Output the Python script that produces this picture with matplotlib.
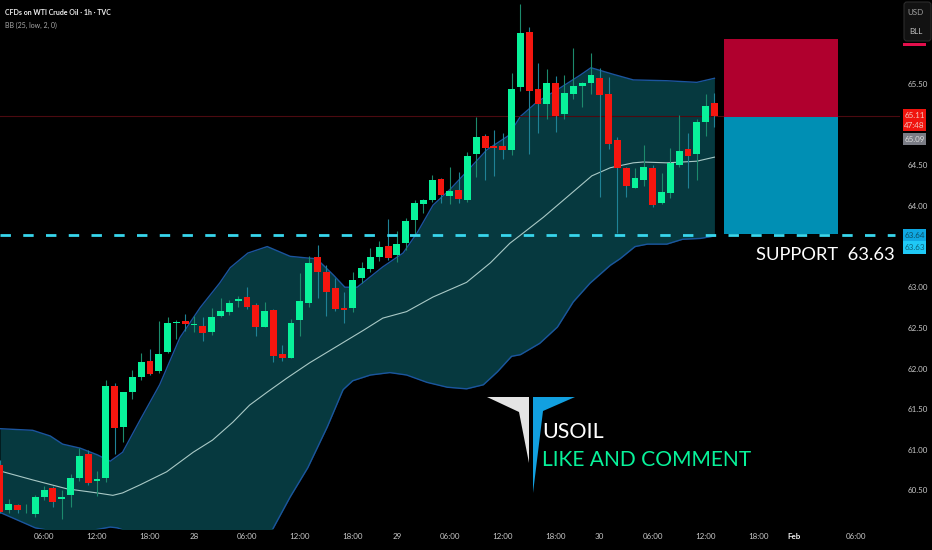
import matplotlib
matplotlib.use('Agg')
import matplotlib.pyplot as plt
from matplotlib.patches import Polygon, Rectangle, FancyBboxPatch
import numpy as np

# candles, one per hour
opens = [60.81,60.26,60.32,60.23,60.21,60.42,60.53,60.40,60.45,60.65,60.95,60.62,60.65,61.78,61.28,61.71,61.90,62.09,61.97,62.20,
         62.56,62.59,62.54,62.52,62.45,62.65,62.70,62.83,62.88,62.78,62.51,62.72,62.18,62.13,62.60,62.80,63.37,63.19,62.99,62.74,
         62.74,63.11,63.22,63.37,63.51,63.40,63.54,63.83,64.02,64.07,64.33,64.12,64.20,64.07,64.64,64.86,64.74,64.74,64.69,65.46,
         66.14,65.44,65.25,65.51,65.13,65.38,65.48,65.51,65.57,65.38,64.81,64.47,64.22,64.32,64.47,64.04,64.16,64.50,64.70,64.64,
         65.03,65.27]
closes = [60.23,60.33,60.26,60.24,60.42,60.51,60.36,60.42,60.65,60.93,60.59,60.64,61.78,61.27,61.71,61.90,62.08,61.93,62.18,62.56,
          62.57,62.55,62.55,62.44,62.63,62.71,62.81,62.86,62.76,62.51,62.71,62.15,62.13,62.56,62.83,63.30,63.19,62.94,62.73,62.72,
          63.09,63.24,63.37,63.50,63.36,63.53,63.81,64.04,64.07,64.32,64.13,64.18,64.09,64.61,64.85,64.71,64.71,64.69,65.44,66.13,
          65.41,65.25,65.51,65.11,65.39,65.48,65.51,65.61,65.36,64.76,64.47,64.25,64.34,64.48,64.01,64.17,64.53,64.68,64.61,65.03,
          65.23,65.11]
highs = [60.87,60.40,60.33,60.33,60.45,60.56,60.56,60.51,60.70,61.02,61.00,60.74,61.86,61.82,61.71,61.98,62.19,62.24,62.59,62.63,
         62.60,62.67,62.65,62.63,62.74,62.87,62.84,62.89,63.00,62.80,62.82,62.73,62.29,62.61,63.18,63.38,63.52,63.27,63.11,62.94,
         63.19,63.31,63.48,63.57,63.84,63.69,63.85,64.07,64.09,64.38,64.34,64.48,64.42,64.66,65.09,64.89,64.93,64.90,65.64,66.48,
         66.20,65.76,65.68,65.60,65.61,65.94,65.53,65.88,65.70,65.59,64.85,64.48,64.47,64.75,64.50,64.40,64.71,65.12,64.90,65.07,
         65.38,65.39]
lows = [60.22,60.22,60.22,60.22,60.17,60.38,60.30,60.15,60.30,60.62,60.57,60.43,60.60,60.95,61.10,61.63,61.86,61.92,61.95,62.19,
        62.36,62.46,62.45,62.34,62.41,62.63,62.66,62.76,62.73,62.40,62.51,62.08,62.09,62.13,62.40,62.76,62.87,62.65,62.71,62.56,
        62.70,63.05,63.19,63.32,63.34,63.31,63.46,63.64,63.91,64.05,64.04,64.02,64.04,64.05,64.36,64.32,64.37,64.58,64.63,65.41,
        64.64,64.90,65.07,64.91,65.07,65.32,65.22,65.38,64.11,64.70,63.67,64.11,64.22,64.25,63.99,64.02,64.10,64.48,64.22,64.32,
        64.86,64.97]

# bollinger bands, read at the bars where the curve bends
upper_x = [0,3.7,5.7,7.1,9.1,11,12.5,13.9,15.9,18.1,20.4,22.7,24.9,26.1,28.1,30.3,32.9,34.8,35.9,37.8,39.1,40.5,43.4,45.7,47.3,49.1,51,52.9,55.2,57.6,59,60.9,63.2,65.8,67,69.5,71.8,75.6,79,81]
upper_y = [61.26,61.24,61.17,61.07,61.02,60.94,60.86,60.97,61.37,61.80,62.38,62.75,63.05,63.24,63.42,63.50,63.38,63.36,63.35,63.15,63.00,63.00,63.25,63.42,63.67,64.01,64.20,64.42,64.69,64.86,65.10,65.28,65.43,65.61,65.70,65.62,65.55,65.54,65.52,65.57]
mid_x = [0,3.7,7.6,11,12.8,13.9,15.9,18.9,21.9,24.1,26.4,28.3,30.3,32.5,35.1,41.2,43.4,46.1,49.1,52.9,55.6,57.8,59,61.6,64.3,67.1,69.2,71.8,72.9,75.6,79,81]
mid_y = [60.74,60.63,60.52,60.47,60.44,60.47,60.57,60.73,60.97,61.12,61.34,61.55,61.71,61.88,62.07,62.47,62.62,62.70,62.88,63.06,63.30,63.54,63.64,63.86,64.11,64.37,64.47,64.53,64.54,64.53,64.55,64.60]
lower_x = [0,1.9,4,8,12.5,13.3,17,22,29,31,32.9,34.9,37.1,38.9,40,42,44.2,46.1,48.4,50.7,52.9,54.8,56.4,58,59,61.2,63.2,65,66.9,69.2,70.3,72,73.4,75.6,77.4,79.4,81]
lower_y = [60.23,60.14,60.04,59.96,60.05,60.04,59.89,59.75,59.63,60.04,60.42,60.78,61.28,61.74,61.85,61.92,61.95,61.92,61.83,61.77,61.75,61.80,61.96,62.15,62.17,62.31,62.51,62.82,63.05,63.27,63.35,63.50,63.53,63.53,63.59,63.60,63.63]

x_ticks = [5,11,17,22,28,34,40,45,51,57,63,68,74,80,86,90,97]
x_labels = ['06:00','12:00','18:00','28','06:00','12:00','18:00','29','06:00','12:00','18:00','30','06:00','12:00','18:00','Feb','06:00']
y_ticks = [60.5,61,61.5,62,62.5,63,64,64.5,65.5]
y_labels = ['60.50','61.00','61.50','62.00','62.50','63.00','64.00','64.50','65.50']

last_price = 65.11
support = 63.64
box_stop, box_entry, box_target = 66.05, 65.09, 63.65
box_start, box_end = 82.1, 95.0

GREEN = '#08f29a'
RED = '#f5160f'
FONT = 'Lato'

W, H = 932, 550
fig = plt.figure(figsize=(W / 100, H / 100), dpi=100, facecolor='black')
ax = fig.add_axes([0, 21 / H, 900 / W, 529 / H], facecolor='black')
ax.set_xlim(0, 900 / 8.82)
ax.set_ylim(60.026, 66.533)
for s in ax.spines.values():
    s.set_visible(False)

x = np.arange(len(opens))
o, c = np.array(opens), np.array(closes)
up = c >= o

# band fill needs a common x
fx = np.linspace(0, 81, 400)
ax.fill_between(fx, np.interp(fx, lower_x, lower_y), np.interp(fx, upper_x, upper_y), color='#06393f', lw=0, zorder=1)
ax.plot(upper_x, upper_y, color='#1b559e', lw=1, zorder=2)
ax.plot(lower_x, lower_y, color='#1b559e', lw=1, zorder=2)
ax.plot(mid_x, mid_y, color='#a9c9c6', lw=0.8, zorder=2)

ax.axhline(last_price, color='#4c0a10', lw=0.8, zorder=2)
ax.vlines(x[up], np.array(lows)[up], np.array(highs)[up], color='#1c8a6c', lw=0.8, zorder=3)
ax.vlines(x[~up], np.array(lows)[~up], np.array(highs)[~up], color='#1f8296', lw=0.8, zorder=3)
ax.bar(x[up], (c - o)[up], bottom=o[up], width=0.78, color=GREEN, lw=0, zorder=4)
ax.bar(x[~up], (c - o)[~up], bottom=o[~up], width=0.78, color=RED, lw=0, zorder=4)

ax.plot([0, 895 / 8.82], [support, support], color='#38d6ec', lw=2, dashes=(3.75, 4.44),
        dash_capstyle='butt', zorder=5)
ax.add_patch(Rectangle((box_start, box_entry), box_end - box_start, box_stop - box_entry, color='#b0002e', lw=0, zorder=6))
ax.add_patch(Rectangle((box_start, box_target), box_end - box_start, box_entry - box_target, color='#008fb4', lw=0, zorder=6))

ax.set_xticks(x_ticks)
ax.set_xticklabels(x_labels, color='#c8c8c8', fontsize=5.8, family=FONT)
ax.get_xticklabels()[15].set_fontweight('bold')
ax.get_xticklabels()[15].set_color('#f0f0f0')
ax.yaxis.tick_right()
ax.set_yticks(y_ticks)
ax.set_yticklabels(y_labels, color='#c8c8c8', fontsize=5.8, family=FONT)
ax.tick_params(length=0, pad=3)
ax.tick_params(axis='y', pad=5.5)

# everything outside the price scale goes on a pixel overlay
ov = fig.add_axes([0, 0, 1, 1], facecolor='none')
ov.set_xlim(0, W)
ov.set_ylim(H, 0)
ov.axis('off')

ov.text(5, 12.5, 'CFDs on WTI Crude Oil · 1h · TVC', color='#f0f0f0', fontsize=5, family=FONT, fontweight='bold', va='center')
ov.text(5, 25, 'BB (25, low, 2, 0)', color='#a8a8a8', fontsize=5, family=FONT, va='center')

ov.add_patch(FancyBboxPatch((906, 4), 23, 35, boxstyle='round,pad=2,rounding_size=3', fc='#121212', ec='#2c2c2c', lw=0.8))
ov.text(916, 12.5, 'USD', color='#a0a0a0', fontsize=5.8, family=FONT, ha='center', va='center')
ov.text(916, 31.5, 'BLL', color='#c0c0c0', fontsize=5.8, family=FONT, ha='center', va='center')
ov.add_patch(Rectangle((903, 43), 23, 3, color='#e30f4c', lw=0))

ov.add_patch(Rectangle((903, 109), 23, 22, color='#f0140e', lw=0))
ov.text(914.5, 115, '65.11', color='#f3c8c0', fontsize=5.8, family=FONT, ha='center', va='center')
ov.text(914.5, 125, '47:48', color='#f3c8c0', fontsize=5.8, family=FONT, ha='center', va='center')
ov.add_patch(Rectangle((903, 133), 23, 12, color='#7a7c85', lw=0))
ov.text(914.5, 139, '65.09', color='#dcdcdc', fontsize=5.8, family=FONT, ha='center', va='center')
ov.add_patch(Rectangle((903, 229), 23, 12, color='#0fa8e2', lw=0))
ov.text(914.5, 235, '63.64', color='#0c4f66', fontsize=5.8, family=FONT, ha='center', va='center')
ov.add_patch(Rectangle((903, 241), 23, 13, color='#1fc9f6', lw=0))
ov.text(914.5, 247.5, '63.63', color='#0c5f76', fontsize=5.8, family=FONT, ha='center', va='center')

ov.text(756, 254.5, 'SUPPORT  63.63', color='white', fontsize=13.2, family=FONT, va='center')

ov.add_patch(Polygon([(487, 397), (529, 397), (529, 463), (519, 412)], color='#e4e4e4', lw=0))
ov.add_patch(Polygon([(533, 397), (575, 397), (543, 411), (533, 493)], color='#12a0e0', lw=0))
ov.text(542.5, 431.5, 'USOIL', color='white', fontsize=15.4, family=FONT, va='center')
ov.text(542.5, 460, 'LIKE AND COMMENT', color=GREEN, fontsize=15.1, family=FONT, va='center')

fig.savefig('out.png', dpi=100, facecolor='black')
